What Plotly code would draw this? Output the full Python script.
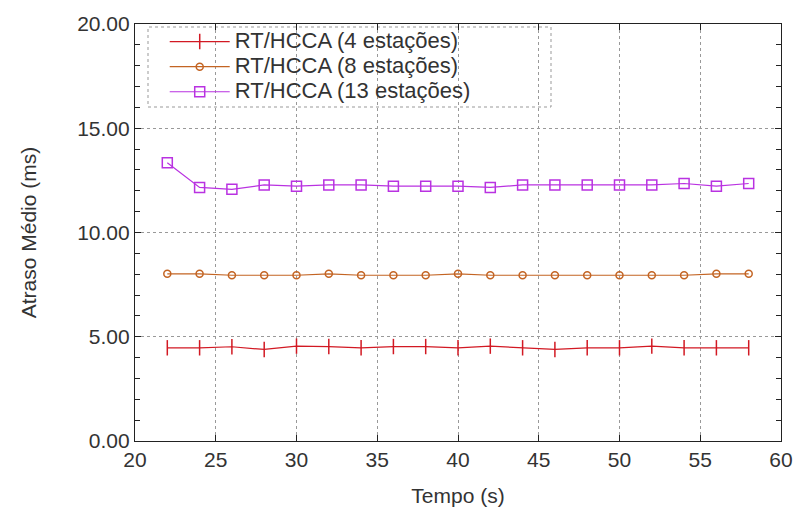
import plotly.graph_objects as go

tempo = [22, 24, 26, 28, 30, 32, 34, 36, 38, 40, 42, 44, 46, 48, 50, 52, 54, 56, 58]
est4 = [4.47, 4.47, 4.52, 4.39, 4.55, 4.53, 4.47, 4.53, 4.53, 4.47, 4.55, 4.47, 4.39, 4.47, 4.47, 4.55, 4.47, 4.47, 4.47]
est8 = [8.02, 8.02, 7.95, 7.95, 7.95, 8.02, 7.95, 7.95, 7.95, 8.02, 7.95, 7.95, 7.95, 7.95, 7.95, 7.95, 7.95, 8.02, 8.02]
est13 = [13.35, 12.16, 12.07, 12.28, 12.22, 12.28, 12.28, 12.22, 12.22, 12.22, 12.16, 12.28, 12.28, 12.28, 12.28, 12.28, 12.35, 12.22, 12.35]
names = ["RT/HCCA (4 estações)", "RT/HCCA (8 estações)", "RT/HCCA (13 estações)"]

FONT = "Liberation Sans, Arial, sans-serif"
TXT = "#333"


def big(s):
    return '<span style="font-size:22px">' + s + "</span>"


fig = go.Figure()
fig.add_trace(go.Scatter(x=tempo, y=est4, name=big(names[0]), mode="lines+markers",
                         line=dict(color="rgb(210,25,35)", width=1.2),
                         marker=dict(symbol="line-ns", size=11,
                                     line=dict(color="rgb(210,25,35)", width=1.5))))
fig.add_trace(go.Scatter(x=tempo, y=est8, name=big(names[1]), mode="lines+markers",
                         line=dict(color="rgb(195,100,35)", width=1.2),
                         marker=dict(symbol="circle-open", size=7,
                                     line=dict(color="rgb(195,100,35)", width=1.5))))
fig.add_trace(go.Scatter(x=tempo, y=est13, name=big(names[2]), mode="lines+markers",
                         line=dict(color="rgb(185,50,225)", width=1.2),
                         marker=dict(symbol="square-open", size=10,
                                     line=dict(color="rgb(185,50,225)", width=1.5))))

axis_common = dict(
    showline=True, linecolor="#222", linewidth=1.2, mirror="ticks",
    ticks="inside", ticklen=6, tickcolor="#222",
    showgrid=True, gridcolor="#999", griddash="dot", gridwidth=1,
    zeroline=False, automargin=False,
    tickfont=dict(family=FONT, size=21, color=TXT),
)

fig.update_layout(
    width=793, height=517,
    margin=dict(l=135, r=12, t=24, b=76),
    paper_bgcolor="white", plot_bgcolor="white",
    font=dict(family=FONT, size=21, color=TXT),
    xaxis=dict(range=[20, 60], dtick=5, tick0=20,
               title=dict(text="Tempo (s)", font=dict(family=FONT, size=21, color=TXT), standoff=18),
               **axis_common),
    yaxis=dict(range=[0, 20], dtick=5, tickformat=".2f",
               minor=dict(dtick=1, ticks="inside", ticklen=5, tickcolor="#222", showgrid=False),
               title=dict(text="Atraso Médio (ms)", font=dict(family=FONT, size=21, color=TXT), standoff=34),
               **axis_common),
    legend=dict(x=0.046, y=1.0, xanchor="left", yanchor="top",
                bgcolor="rgba(0,0,0,0)", borderwidth=0,
                font=dict(family=FONT, size=17, color=TXT),
                itemwidth=60, tracegroupgap=0),
    showlegend=True,
    shapes=[dict(type="rect", xref="paper", yref="paper",
                 x0=(148 - 135) / 646, x1=(551 - 135) / 646,
                 y0=(441 - 107) / 417, y1=(441 - 27) / 417,
                 line=dict(color="#999", width=1, dash="dot"),
                 fillcolor="white", layer="below")],
)

fig.write_html("out.html")
